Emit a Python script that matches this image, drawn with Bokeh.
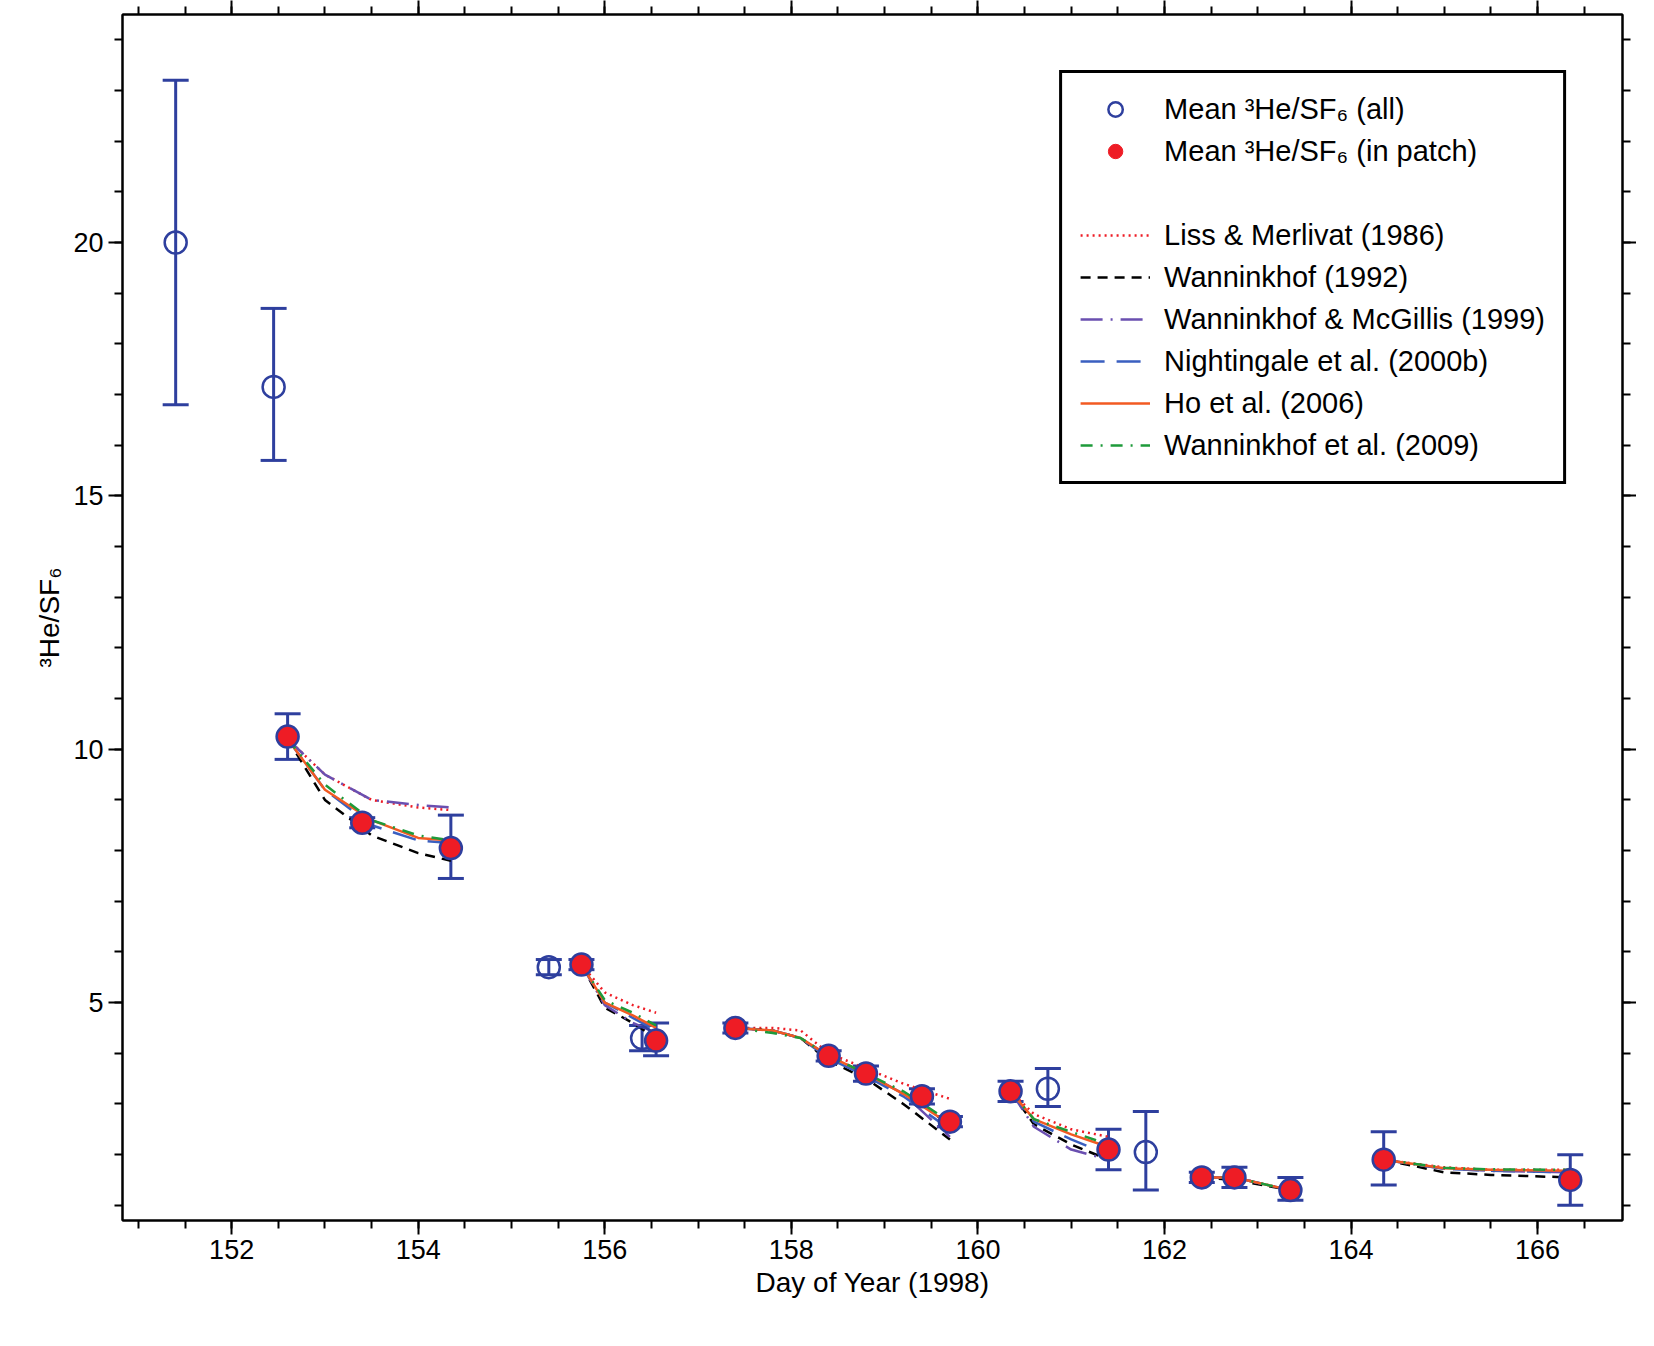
from bokeh.plotting import figure
from bokeh.models import LinearAxis, Range1d, FixedTicker, Legend, LegendItem, Whisker, ColumnDataSource
from bokeh.embed import file_html
from bokeh.resources import INLINE

# Mean 3He/SF6 (all) - open circles
all_x = [151.4, 152.45, 155.4, 156.4, 160.75, 161.8]
all_y = [20.0, 17.15, 5.7, 4.3, 3.3, 2.05]
all_lo = [16.8, 15.7, 5.55, 4.05, 2.95, 1.3]
all_hi = [23.2, 18.7, 5.85, 4.55, 3.7, 2.85]

# Mean 3He/SF6 (in patch) - filled
pat_x = [152.6, 153.4, 154.35, 155.75, 156.55, 157.4, 158.4, 158.8, 159.4, 159.7,
         160.35, 161.4, 162.4, 162.75, 163.35, 164.35, 166.35]
pat_y = [10.25, 8.55, 8.05, 5.75, 4.25, 4.5, 3.95, 3.6, 3.15, 2.65,
         3.25, 2.1, 1.55, 1.55, 1.3, 1.9, 1.5]
pat_lo = [9.8, 8.45, 7.45, 5.65, 3.95, 4.4, 3.85, 3.45, 3.0, 2.55,
          3.05, 1.7, 1.45, 1.35, 1.1, 1.4, 1.0]
pat_hi = [10.7, 8.65, 8.7, 5.85, 4.6, 4.6, 4.05, 3.75, 3.3, 2.75,
          3.45, 2.5, 1.65, 1.75, 1.55, 2.45, 2.0]

# Model segments: x positions
segA_x = [152.6, 153.0, 153.5, 154.0, 154.35]
segB_x = [155.75, 156.0, 156.3, 156.55]
segC_x = [157.4, 157.8, 158.1, 158.4, 158.8, 159.2, 159.7]
segD_x = [160.35, 160.6, 161.0, 161.4]
segE_x = [162.4, 162.75, 163.35]
segF_x = [164.35, 165.0, 165.5, 166.35]

models = {
    "Liss & Merlivat (1986)": [
        [10.2, 9.5, 9.0, 8.85, 8.8], [5.75, 5.2, 4.95, 4.8],
        [4.5, 4.5, 4.45, 4.0, 3.7, 3.4, 3.1], [3.25, 2.8, 2.5, 2.35],
        [1.55, 1.55, 1.3], [1.9, 1.75, 1.7, 1.7]],
    "Wanninkhof (1992)": [
        [10.2, 9.0, 8.3, 7.95, 7.8], [5.75, 4.9, 4.6, 4.3],
        [4.5, 4.45, 4.3, 3.85, 3.5, 3.0, 2.3], [3.25, 2.6, 2.2, 1.9],
        [1.55, 1.5, 1.3], [1.9, 1.65, 1.6, 1.55]],
    "Wanninkhof & McGillis (1999)": [
        [10.2, 9.5, 9.0, 8.9, 8.85], [5.75, 4.95, 4.6, 4.4],
        [4.5, 4.45, 4.3, 3.95, 3.6, 3.2, 2.35], [3.25, 2.55, 2.1, 1.9],
        [1.55, 1.55, 1.3], [1.9, 1.72, 1.68, 1.65]],
    "Nightingale et al. (2000b)": [
        [10.2, 9.2, 8.5, 8.2, 8.15], [5.75, 5.0, 4.7, 4.45],
        [4.5, 4.45, 4.3, 3.9, 3.55, 3.15, 2.5], [3.25, 2.65, 2.3, 2.0],
        [1.55, 1.55, 1.3], [1.9, 1.72, 1.68, 1.65]],
    "Ho et al. (2006)": [
        [10.2, 9.2, 8.6, 8.25, 8.2], [5.75, 5.0, 4.75, 4.5],
        [4.5, 4.45, 4.3, 3.95, 3.6, 3.2, 2.6], [3.25, 2.7, 2.4, 2.15],
        [1.55, 1.55, 1.3], [1.9, 1.73, 1.7, 1.68]],
    "Wanninkhof et al. (2009)": [
        [10.2, 9.3, 8.6, 8.3, 8.2], [5.75, 5.05, 4.8, 4.55],
        [4.5, 4.4, 4.3, 3.95, 3.6, 3.25, 2.65], [3.25, 2.7, 2.45, 2.2],
        [1.55, 1.55, 1.3], [1.9, 1.74, 1.71, 1.7]],
}
seg_xs = [segA_x, segB_x, segC_x, segD_x, segE_x, segF_x]

styles = {
    "Liss & Merlivat (1986)": ("#ee1c25", "dotted"),
    "Wanninkhof (1992)": ("#000000", "10 7"),
    "Wanninkhof & McGillis (1999)": ("#6a4fb0", "22 8 2 8"),
    "Nightingale et al. (2000b)": ("#3a5fc0", "24 12"),
    "Ho et al. (2006)": ("#f25a22", "solid"),
    "Wanninkhof et al. (2009)": ("#1e9a3a", "12 8 2 8"),
}

BLUE = "#2e3f9e"
FONT = "Liberation Sans"

p = figure(width=1636, height=1300, output_backend="svg", toolbar_location=None,
           x_range=Range1d(150.83, 166.91), y_range=Range1d(0.7, 24.5),
           min_border_left=122, min_border_right=10, min_border_top=4, min_border_bottom=60)
p.grid.visible = False
p.outline_line_color = "black"
p.outline_line_width = 2

xt = FixedTicker(ticks=[152, 154, 156, 158, 160, 162, 164, 166],
                 minor_ticks=[151 + 0.5 * i for i in range(33)])
yt = FixedTicker(ticks=[5, 10, 15, 20], minor_ticks=list(range(1, 25)))

def style_axis(ax, labels=True):
    ax.major_tick_out = 14
    ax.major_tick_in = 0
    ax.minor_tick_out = 8
    ax.minor_tick_in = 0
    ax.major_tick_line_width = 2
    ax.minor_tick_line_width = 2
    ax.axis_line_width = 2
    ax.major_tick_line_color = "black"
    ax.minor_tick_line_color = "black"
    ax.axis_line_color = "black"
    ax.major_label_text_font = FONT
    ax.major_label_text_font_size = "27px"
    ax.major_label_text_color = "black"
    ax.axis_label_text_font = FONT
    ax.axis_label_text_font_size = "28px"
    ax.axis_label_text_color = "black"
    ax.axis_label_text_font_style = "normal"
    if not labels:
        ax.major_label_text_color = None

p.xaxis.ticker = xt
p.yaxis.ticker = yt
p.xaxis.axis_label = "Day of Year (1998)"
p.yaxis.axis_label = "³He/SF₆"
style_axis(p.xaxis[0]); style_axis(p.yaxis[0])
top = LinearAxis(ticker=xt); style_axis(top, False)
right = LinearAxis(ticker=yt); style_axis(right, False)
p.add_layout(top, "above"); p.add_layout(right, "right")

line_items = []
for name, segs in models.items():
    col, dash = styles[name]
    rs = []
    for xs, ys in zip(seg_xs, segs):
        rs.append(p.line(xs, ys, line_color=col, line_dash=dash, line_width=2.5))
    line_items.append(LegendItem(label=name, renderers=[rs[0]]))

for xs, lo, hi in [(all_x, all_lo, all_hi), (pat_x, pat_lo, pat_hi)]:
    src = ColumnDataSource(dict(x=xs, lo=lo, hi=hi))
    w = Whisker(source=src, base="x", lower="lo", upper="hi", line_color=BLUE, line_width=3)
    w.upper_head.size = 26; w.lower_head.size = 26
    w.upper_head.line_color = BLUE; w.lower_head.line_color = BLUE
    w.upper_head.line_width = 3; w.lower_head.line_width = 3
    p.add_layout(w)

r_all = p.scatter(all_x, all_y, size=22, fill_color="white", fill_alpha=0,
                  line_color=BLUE, line_width=2.5)
r_pat = p.scatter(pat_x, pat_y, size=22, fill_color="#ee1c25", line_color=BLUE, line_width=2.5)
r_pat_leg = p.scatter([200], [1], size=22, fill_color="#ee1c25", line_color="#ee1c25")
r_blank = p.scatter([200], [1], size=1, alpha=0)

legend = Legend(items=[LegendItem(label="Mean ³He/SF₆ (all)", renderers=[r_all]),
                       LegendItem(label="Mean ³He/SF₆ (in patch)", renderers=[r_pat_leg]),
                       LegendItem(label=" ", renderers=[r_blank])] + line_items,
                location="top_right", label_text_font=FONT, label_text_font_size="29px",
                label_text_color="black",
                border_line_color="black", border_line_width=3, border_line_alpha=1,
                spacing=6, glyph_width=70, glyph_height=36, padding=18, margin=56,
                label_standoff=14)
p.add_layout(legend)

open("out.html", "w").write(file_html(p, INLINE))
